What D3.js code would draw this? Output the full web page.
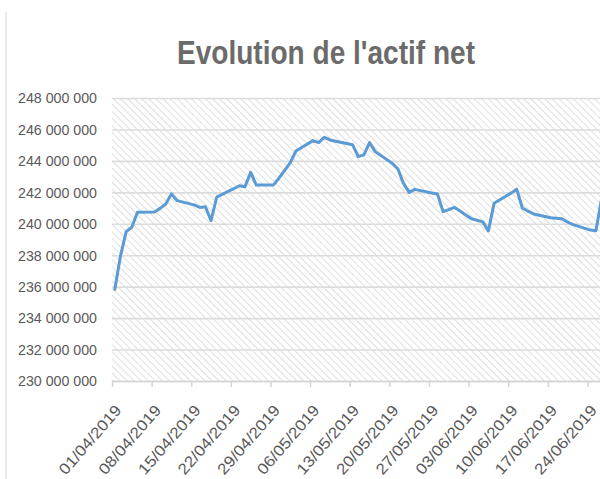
<!DOCTYPE html>
<html>
<head>
<meta charset="utf-8">
<script src="https://cdn.jsdelivr.net/npm/d3@7"></script>
<style>
  body { margin: 0; background: #fff; }
  svg { display: block; }
</style>
</head>
<body>
<div id="chart"></div>
<script>
// business days and net asset values
var dates = [
    "01/04/2019", "02/04/2019", "03/04/2019", "04/04/2019", "05/04/2019",
    "08/04/2019", "09/04/2019", "10/04/2019", "11/04/2019", "12/04/2019",
    "15/04/2019", "16/04/2019", "17/04/2019", "18/04/2019", "19/04/2019",
    "22/04/2019", "23/04/2019", "24/04/2019", "25/04/2019", "26/04/2019",
    "29/04/2019", "30/04/2019", "01/05/2019", "02/05/2019", "03/05/2019",
    "06/05/2019", "07/05/2019", "08/05/2019", "09/05/2019", "10/05/2019",
    "13/05/2019", "14/05/2019", "15/05/2019", "16/05/2019", "17/05/2019",
    "20/05/2019", "21/05/2019", "22/05/2019", "23/05/2019", "24/05/2019",
    "27/05/2019", "28/05/2019", "29/05/2019", "30/05/2019", "31/05/2019",
    "03/06/2019", "04/06/2019", "05/06/2019", "06/06/2019", "07/06/2019",
    "10/06/2019", "11/06/2019", "12/06/2019", "13/06/2019", "14/06/2019",
    "17/06/2019", "18/06/2019", "19/06/2019", "20/06/2019", "21/06/2019",
    "24/06/2019", "25/06/2019", "26/06/2019"
];
var values = [
    235830000, 237950000, 239500000, 239780000, 240730000,
    240750000, 240980000, 241260000, 241900000, 241470000,
    241200000, 241040000, 241080000, 240200000, 241700000,
    242230000, 242420000, 242360000, 243270000, 242460000,
    242460000, 242900000, 243400000, 243890000, 244630000,
    245290000, 245160000, 245500000, 245330000, 245250000,
    245030000, 244270000, 244380000, 245160000, 244590000,
    243850000, 243500000, 242570000, 242000000, 242190000,
    241960000, 241900000, 240770000, 240900000, 241050000,
    240320000, 240220000, 240120000, 239550000, 241300000,
    241950000, 242200000, 241000000, 240800000, 240620000,
    240380000, 240350000, 240320000, 240100000, 239950000,
    239600000, 239560000, 241600000
];
var x_tick_labels = [
    "01/04/2019", "08/04/2019", "15/04/2019", "22/04/2019", "29/04/2019",
    "06/05/2019", "13/05/2019", "20/05/2019", "27/05/2019", "03/06/2019",
    "10/06/2019", "17/06/2019", "24/06/2019"
];
var y_ticks = [230000000, 232000000, 234000000, 236000000, 238000000,
    240000000, 242000000, 244000000, 246000000, 248000000];
var title = "Evolution de l'actif net";

var width = 600;
var height = 479;
var plot = { "left": 112, "top": 98, "bottom": 381, "day": 5.66 };
var parse = d3.timeParse("%d/%m/%Y");
var grey_text = "#595959";

var svg = d3.select("#chart")
    .append("svg")
    .attr("width", width)
    .attr("height", height);

var start = parse("01/04/2019");
var end = parse("01/07/2019");
var x_scale = d3.scaleTime()
    .domain([start, end])
    .range([plot.left, plot.left + d3.timeDay.count(start, end) * plot.day]);
var y_scale = d3.scaleLinear()
    .domain([d3.min(y_ticks), d3.max(y_ticks)])
    .range([plot.bottom, plot.top]);

// hatched plot background
var defs = svg.append("defs");
defs.append("pattern")
    .attr("id", "hatch")
    .attr("patternUnits", "userSpaceOnUse")
    .attr("width", 5)
    .attr("height", 5)
    .attr("patternTransform", "rotate(-45)")
    .append("line")
    .attr("x1", 0).attr("y1", 0)
    .attr("x2", 0).attr("y2", 5)
    .attr("stroke", "#d6d6d6")
    .attr("stroke-width", 1.6);

svg.append("rect")
    .attr("x", plot.left)
    .attr("y", plot.top)
    .attr("width", width - plot.left)
    .attr("height", plot.bottom - plot.top)
    .attr("fill", "url(#hatch)");

// faint border at the left edge
svg.append("line")
    .attr("x1", 6).attr("x2", 6)
    .attr("y1", 12).attr("y2", height)
    .attr("stroke", "#e2e2e2")
    .attr("stroke-width", 1.5);

// title
svg.append("text")
    .text(title)
    .attr("x", 326)
    .attr("y", 64)
    .attr("text-anchor", "middle")
    .attr("font-family", "Liberation Sans, Arial, sans-serif")
    .attr("font-weight", "bold")
    .attr("font-size", 33)
    .attr("textLength", 298)
    .attr("lengthAdjust", "spacingAndGlyphs")
    .attr("fill", "#6b6b6b");

// y axis: gridlines + labels
var y_axis = d3.axisLeft(y_scale)
    .tickValues(y_ticks)
    .tickSize(-(width - plot.left))
    .tickPadding(15)
    .tickFormat(function (d) { return d3.format(",")(d).replace(/,/g, " "); });
var gy = svg.append("g")
    .attr("transform", "translate(" + plot.left + ",0)")
    .call(y_axis);
gy.select(".domain").remove();
gy.selectAll(".tick line")
    .attr("stroke", "#dcdcdc")
    .attr("stroke-width", 1.6);
gy.selectAll(".tick text")
    .attr("font-family", "Liberation Sans, Arial, sans-serif")
    .attr("font-size", 15)
    .attr("textLength", 79)
    .attr("lengthAdjust", "spacingAndGlyphs")
    .attr("fill", grey_text);

// x axis
var x_axis = d3.axisBottom(x_scale)
    .tickValues(x_tick_labels.map(parse))
    .tickSize(6)
    .tickSizeOuter(0)
    .tickFormat(d3.timeFormat("%d/%m/%Y"));
var gx = svg.append("g")
    .attr("transform", "translate(0," + plot.bottom + ")")
    .call(x_axis);
gx.select(".domain")
    .attr("stroke", "#d4d4d4")
    .attr("stroke-width", 1.5);
gx.selectAll(".tick line")
    .attr("stroke", "#d4d4d4")
    .attr("stroke-width", 1.5);
gx.selectAll(".tick text")
    .attr("font-family", "Liberation Sans, Arial, sans-serif")
    .attr("font-size", 15.5)
    .attr("textLength", 86)
    .attr("lengthAdjust", "spacingAndGlyphs")
    .attr("fill", grey_text)
    .attr("text-anchor", "end")
    .attr("dy", 0)
    .attr("transform", "translate(3,24) rotate(-49)");

// the series line, points sit in the middle of their day
var dataset = dates.map(function (d, i) {
    return { "date": d3.timeHour.offset(parse(d), 12), "value": values[i] };
});
var line = d3.line()
    .x(function (d) { return x_scale(d.date); })
    .y(function (d) { return y_scale(d.value); });
svg.append("path")
    .datum(dataset)
    .attr("d", line)
    .attr("fill", "none")
    .attr("stroke", "#5b9bd5")
    .attr("stroke-width", 3)
    .attr("stroke-linejoin", "round")
    .attr("stroke-linecap", "round");
</script>
</body>
</html>
